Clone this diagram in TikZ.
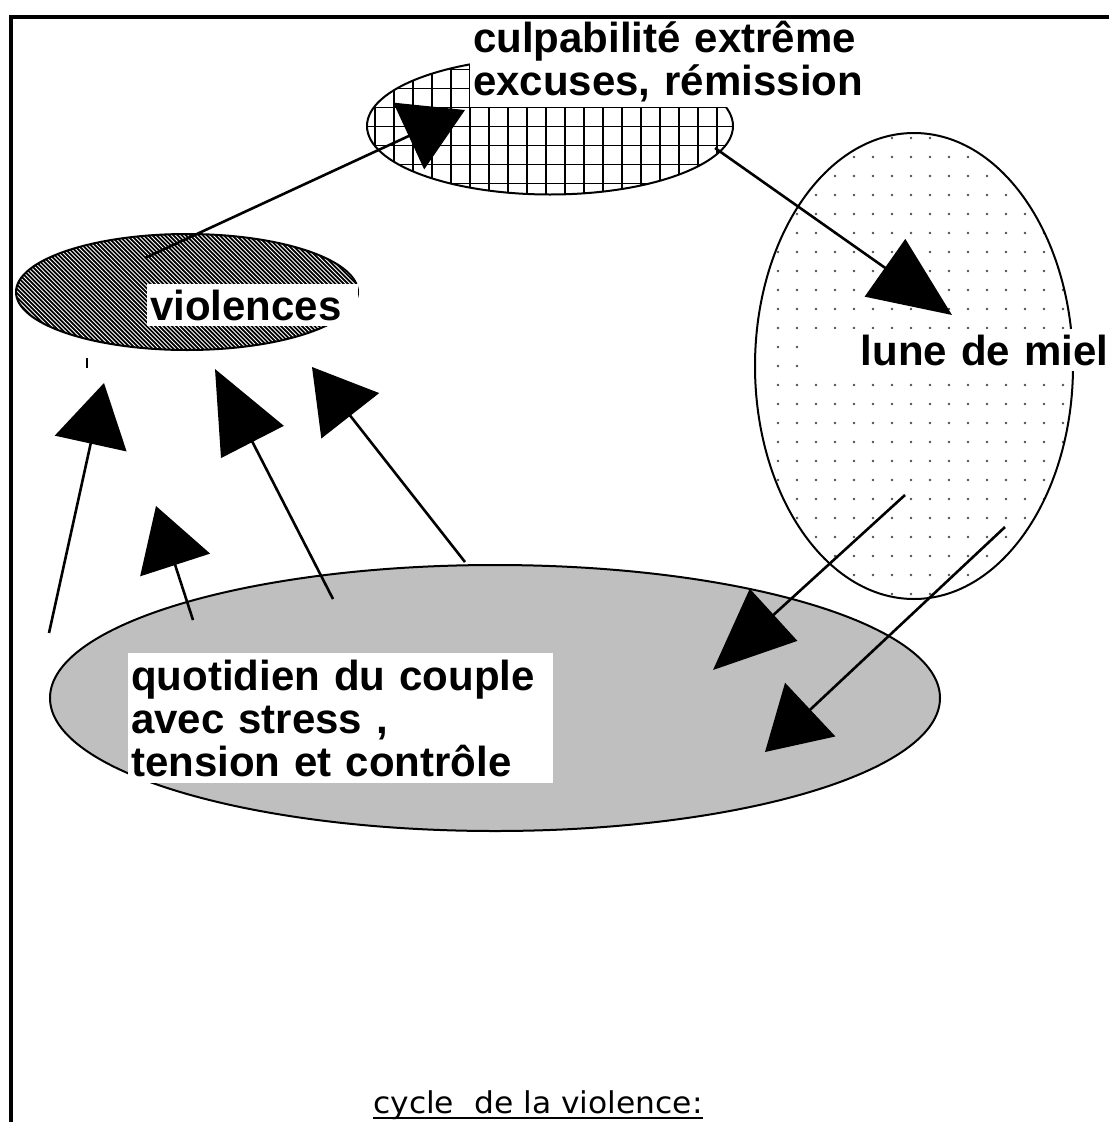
\documentclass[tikz,border=0pt]{standalone}
\usepackage{fontspec}
\usepackage{graphicx}
\setmainfont{Liberation Sans}
\newfontfamily\cyclefont{DejaVu Sans}
\usetikzlibrary{shapes.geometric,arrows.meta}
\definecolor{quotgray}{RGB}{191,191,191}
\definecolor{dotgray}{RGB}{80,80,80}

\begin{document}
\begin{tikzpicture}[x=1pt,y=-1pt,
    phase/.style={ellipse,draw,line width=2pt,inner sep=0pt},
    labelbox/.style={fill=white,inner xsep=3pt,inner ysep=6pt,anchor=base west,align=left,
        font=\bfseries\fontsize{42}{43}\selectfont},
    shorthead/.style={line width=2.6pt,-{Triangle[length=62pt,width=73pt]}},
    longhead/.style={line width=2.6pt,-{Triangle[length=82pt,width=70pt]}}]
    \useasboundingbox (0,0) rectangle (1109,1122);

    % the four phases
    \node[phase,minimum width=366pt,minimum height=137pt,
        path picture={
            \foreach \k in {0,...,19}
                \draw[line width=1.8pt] ([xshift=8pt+\k*19pt]path picture bounding box.north west) -- ([xshift=8pt+\k*19pt]path picture bounding box.south west);
            \foreach \k in {0,...,7}
                \draw[line width=1.8pt] ([yshift=-12pt-\k*19pt]path picture bounding box.north west) -- ([yshift=-12pt-\k*19pt]path picture bounding box.north east);
        }] (culp) at (550,126) {};
    \node[phase,fill=black,minimum width=342pt,minimum height=116pt,
        path picture={
            \foreach \k in {0,...,120}
                \draw[white,line width=0.9pt] ([xshift=\k*4.2pt-140pt]path picture bounding box.north west) -- ++(140pt,-140pt);
        }] (viol) at (187,292) {};
    \node[phase,minimum width=318pt,minimum height=466pt,
        path picture={
            \foreach \i in {0,...,16}
                \foreach \j in {0,...,24}
                    \fill[dotgray] ([xshift=23pt+\i*19pt,yshift=-5pt-\j*19pt]path picture bounding box.north west) circle[radius=1.3pt];
        }] (lune) at (914,366) {};
    \node[phase,fill=quotgray,minimum width=890pt,minimum height=266pt] (quot) at (495,698) {};

    % arrow ends
    \coordinate (violout) at (145,258);
    \coordinate (culpin) at (465,110);
    \coordinate (culpout) at (715,148);
    \coordinate (lunein) at (952,315);
    \coordinate (luneouta) at (905,495);
    \coordinate (quotina) at (713,670);
    \coordinate (luneoutb) at (1005,527);
    \coordinate (quotinb) at (765,752);
    \coordinate (quotouta) at (49,633);
    \coordinate (violina) at (104,383);
    \coordinate (quotoutb) at (193,620);
    \coordinate (violinb) at (156,506);
    \coordinate (quotoutc) at (333,599);
    \coordinate (violinc) at (215,369);
    \coordinate (quotoutd) at (465,562);
    \coordinate (violind) at (312,367);

    \draw[shorthead] (violout) -- (culpin);
    \draw[longhead] (culpout) -- (lunein);
    \draw[longhead] (luneouta) -- (quotina);
    \draw[shorthead] (luneoutb) -- (quotinb);
    \draw[shorthead] (quotouta) -- (violina);
    \draw[shorthead] (quotoutb) -- (violinb);
    \draw[longhead] (quotoutc) -- (violinc);
    \draw[shorthead] (quotoutd) -- (violind);
    \draw[line width=1.3pt] (87,358) -- (87,368);

    % labels
    \node[labelbox,text width=410pt,inner ysep=5pt] (culptext) at (470,52) {culpabilité extrême\\excuses, rémission};
    \node[labelbox,text width=205pt] (violtext) at (147,320) {violences};
    \node[labelbox,text width=300pt,inner xsep=1pt,align=right] (lunetext) at (807,365) {lune de miel};
    \node[labelbox,text width=419pt,inner ysep=7pt] (quottext) at (128,690) {quotidien du couple\\avec stress ,\\tension et contrôle};

    \node[font=\cyclefont\fontsize{30}{32}\selectfont,inner sep=0pt,anchor=base west] (title) at (373,1113) {\scalebox{1.045}[1]{cycle\ \ de la violence:}};
    \draw[line width=1.5pt] ([yshift=-5pt]title.base west) -- ([yshift=-5pt]title.base east);

    % frame
    \draw[line width=4pt] (11,1122) -- (11,17) -- (1109,17);
\end{tikzpicture}
\end{document}
